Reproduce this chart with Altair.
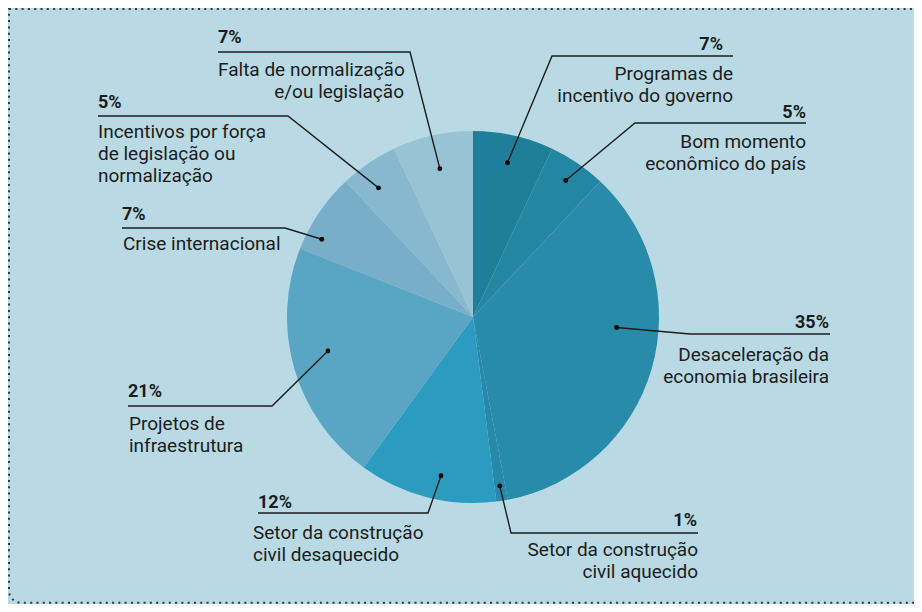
import math
import altair as alt
import pandas as pd

# ---------------- data ----------------
categories = [
    "Programas de incentivo do governo",
    "Bom momento econômico do país",
    "Desaceleração da economia brasileira",
    "Setor da construção civil aquecido",
    "Setor da construção civil desaquecido",
    "Projetos de infraestrutura",
    "Crise internacional",
    "Incentivos por força de legislação ou normalização",
    "Falta de normalização e/ou legislação",
]
values = [7, 5, 35, 1, 12, 21, 7, 5, 7]
label_lines = [
    ["Programas de", "incentivo do governo"],
    ["Bom momento", "econômico do país"],
    ["Desaceleração da", "economia brasileira"],
    ["Setor da construção", "civil aquecido"],
    ["Setor da construção", "civil desaquecido"],
    ["Projetos de", "infraestrutura"],
    ["Crise internacional"],
    ["Incentivos por força", "de legislação ou", "normalização"],
    ["Falta de normalização", "e/ou legislação"],
]

# ---------------- style / layout ----------------
colors = ["#1f7e9a", "#2386a3", "#288ba9", "#2689a7", "#2b9cbf",
          "#5aa5c3", "#78afc8", "#88b8cd", "#98c3d4"]
BG = "#b9dae4"
INK = "#1c1c1c"
OFF = 8  # page margin
CX, CY, R = 473 - OFF, 317 - OFF, 186

# per label (reference pixel layout): percent anchor, align, underline, junction end, line ys, dot radius, angle nudge
layout = [
    dict(px=723, py=45, pa="right", uy=56, ux1=552, ux2=733, jx=552, lx=[733, 733], la=["right", "right"], ly=[74, 96], r=158, nudge=0),
    dict(px=806, py=113, pa="right", uy=123, ux1=635, ux2=806, jx=635, lx=[806, 806], la=["right", "right"], ly=[142, 164], r=165, nudge=0),
    dict(px=829, py=323, pa="right", uy=334, ux1=690, ux2=830, jx=690, lx=[829, 829], la=["right", "right"], ly=[355, 377], r=144, nudge=-12),
    dict(px=697, py=521, pa="right", uy=533, ux1=511, ux2=698, jx=511, lx=[698, 698], la=["right", "right"], ly=[550, 572], r=171, nudge=0),
    dict(px=258, py=503, pa="left", uy=513, ux1=258, ux2=428, jx=428, lx=[253, 253], la=["left", "left"], ly=[533, 555], r=162, nudge=-3),
    dict(px=128, py=392, pa="left", uy=406, ux1=128, ux2=272, jx=272, lx=[129, 129], la=["left", "left"], ly=[424, 446], r=149, nudge=3),
    dict(px=122, py=215, pa="left", uy=228, ux1=122, ux2=285, jx=285, lx=[123], la=["left"], ly=[244], r=170, nudge=-7),
    dict(px=98, py=103, pa="left", uy=116, ux1=98, ux2=288, jx=288, lx=[98, 98, 98], la=["left", "left", "left"], ly=[132, 154, 176], r=160, nudge=-2),
    dict(px=218, py=38, pa="left", uy=52, ux1=218, ux2=410, jx=410, lx=[218, 404], la=["left", "right"], ly=[70, 92], r=152, nudge=0),
]

total = sum(values)
pie_df = pd.DataFrame({"cat": categories, "value": values, "idx": range(len(values))})

pct_rows, line_rows, seg_rows, dot_rows = [], [], [], []
cum = 0
for i, (cat, v, lines, L) in enumerate(zip(categories, values, label_lines, layout)):
    mid = (cum + v / 2) / total * 360 + L["nudge"]
    cum += v
    a = math.radians(mid)
    dx = CX + L["r"] * math.sin(a)
    dy = CY - L["r"] * math.cos(a)
    dot_rows.append({"x": dx, "y": dy, "cat": cat})
    pct_rows.append({"t": f"{v}%", "x": L["px"] - OFF, "y": L["py"] - OFF, "align": L["pa"]})
    for t, x, al, y in zip(lines, L["lx"], L["la"], L["ly"]):
        line_rows.append({"t": t, "x": x - OFF, "y": y - OFF, "align": al})
    far = L["ux2"] if L["jx"] == L["ux1"] else L["ux1"]
    pts = [(dx, dy), (L["jx"] - OFF, L["uy"] - OFF), (far - OFF, L["uy"] - OFF)]
    for k, (x, y) in enumerate(pts):
        seg_rows.append({"cat": cat, "k": k, "x": x, "y": y})

pct_df = pd.DataFrame(pct_rows)
line_df = pd.DataFrame(line_rows)
seg_df = pd.DataFrame(seg_rows)
dot_df = pd.DataFrame(dot_rows)

X = lambda f: alt.X(f, scale=None, axis=None)
Y = lambda f: alt.Y(f, scale=None, axis=None)

border = alt.Chart(pd.DataFrame({"a": [0]})).mark_rect(
    fillOpacity=0, stroke="#2b3a40", strokeWidth=2, strokeDash=[2, 4.3],
    cornerRadiusTopLeft=0, cornerRadiusTopRight=12, cornerRadiusBottomLeft=12, cornerRadiusBottomRight=12,
).encode(x=alt.value(1), x2=alt.value(918), y=alt.value(1), y2=alt.value(594.7))

shadow = alt.Chart(pd.DataFrame({"v": [1]})).mark_arc(
    outerRadius=R + 2, color="#7fa9b8", opacity=0.45
).encode(theta=alt.Theta("v:Q"), x=alt.value(CX + 1), y=alt.value(CY + 2))

pie = alt.Chart(pie_df).mark_arc(outerRadius=R).encode(
    theta=alt.Theta("value:Q", stack=True),
    order=alt.Order("idx:Q"),
    color=alt.Color("cat:N", scale=alt.Scale(domain=categories, range=colors), legend=None),
    x=alt.value(CX), y=alt.value(CY),
)

segs = alt.Chart(seg_df).mark_line(color=INK, strokeWidth=1.4).encode(
    x=X("x:Q"), y=Y("y:Q"), detail="cat:N", order="k:Q"
)
dots = alt.Chart(dot_df).mark_circle(color="#000", size=24, opacity=1).encode(x=X("x:Q"), y=Y("y:Q"))

def texts(df, align, **kw):
    return alt.Chart(df).transform_filter(f"datum.align == '{align}'").mark_text(
        align=align, baseline="middle", font="Roboto", color=INK, **kw
    ).encode(x=X("x:Q"), y=Y("y:Q"), text="t:N")

layers = [border, shadow, pie, segs, dots,
          texts(pct_df, "left", fontSize=18, fontWeight="bold"),
          texts(pct_df, "right", fontSize=18, fontWeight="bold"),
          texts(line_df, "left", fontSize=19),
          texts(line_df, "right", fontSize=19)]

chart = alt.layer(*layers).properties(
    width=906, height=596, background=BG, padding=0,
    autosize=alt.AutoSizeParams(type="none"),
).configure_view(stroke=None)

chart.save("out.html", embed_options={"renderer": "svg", "actions": False})
